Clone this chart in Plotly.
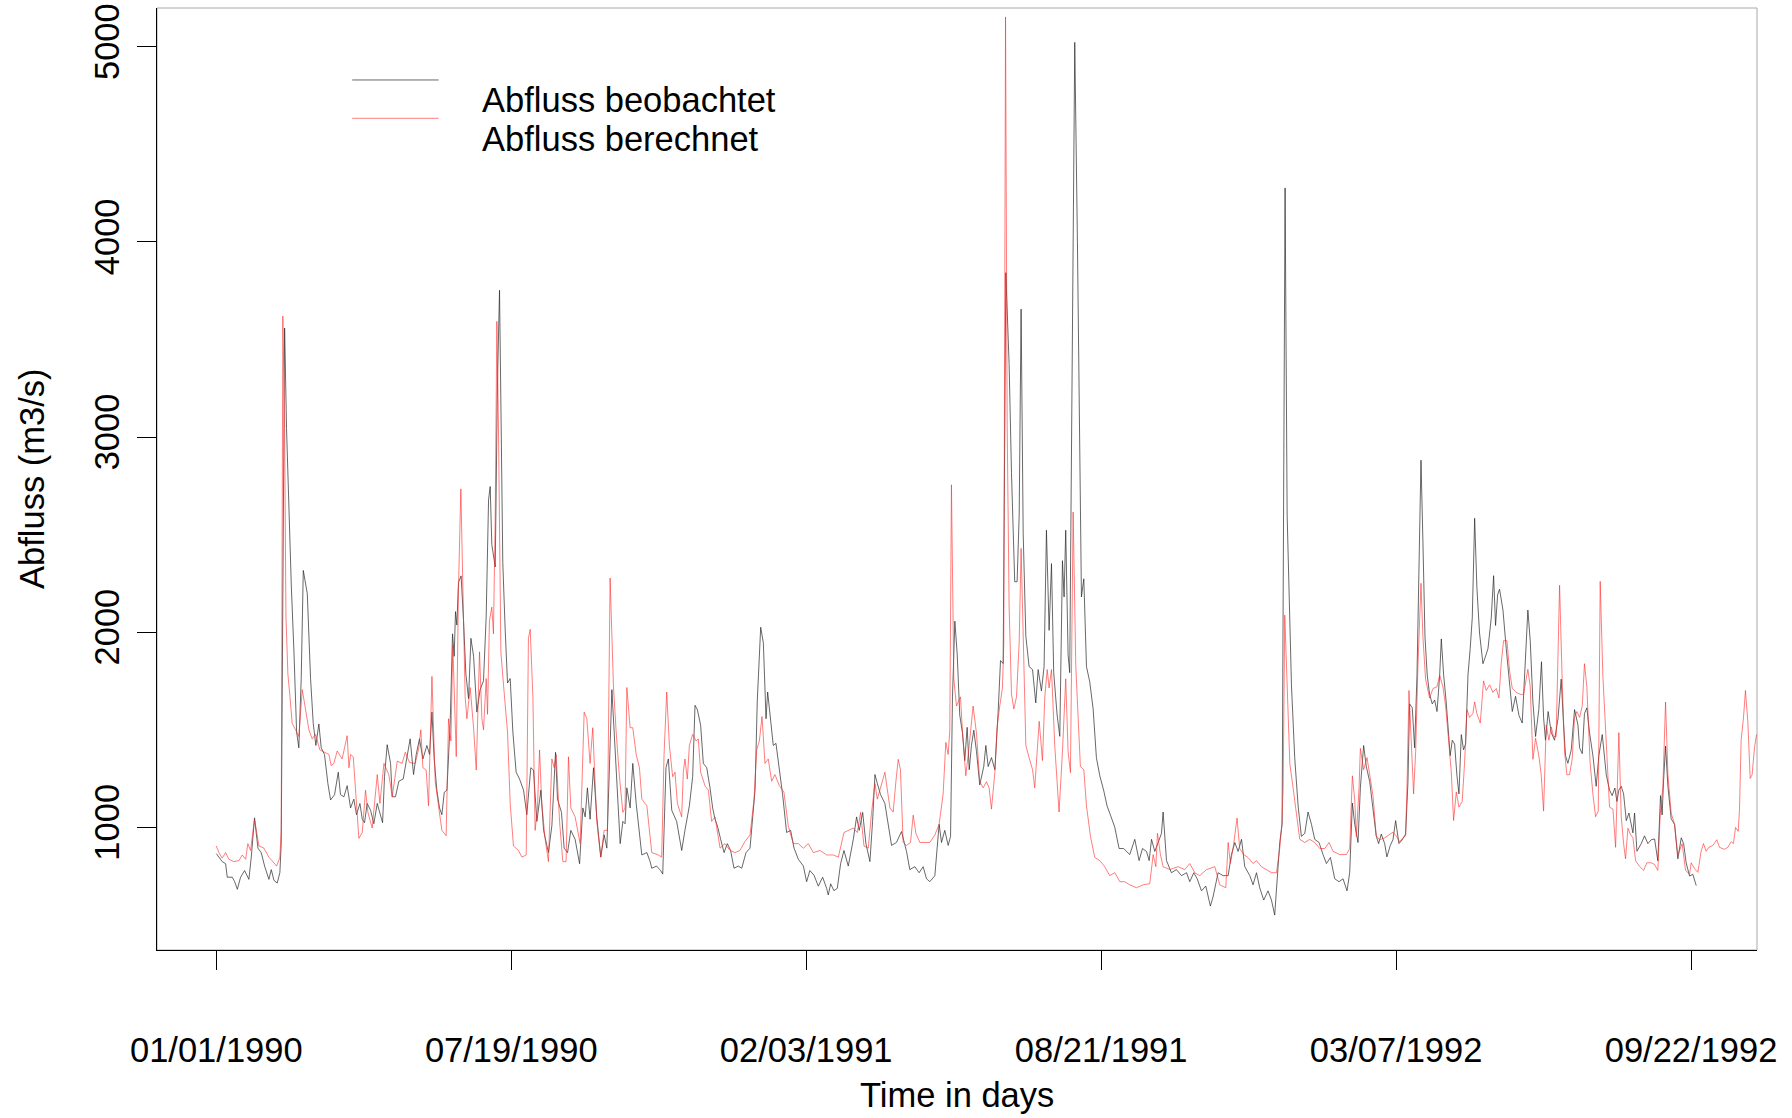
import pandas as pd
import plotly.graph_objects as go

# Daily discharge, observed vs. simulated (day offset from 1990-01-01, m3/s)
obs_day = [0, 1.8, 4, 6.3, 7.4, 10.8, 12.4, 14.2, 16.4, 19.1, 22, 23.6, 25.8, 28.1, 30.3, 32.6, 35.5, 37.1, 38.9, 41.1,
           42.9, 43.8, 44.7, 46.1, 47.4, 49, 50.6, 52.4, 54.2, 55.7, 57.3, 58.7, 61.4, 63.6, 65.4, 67.2, 69.2, 70.8, 73, 75.3,
           77.1, 79.8, 82.3, 83.8, 86.1, 88.3, 90.6, 92.8, 94.6, 96.9, 98.5, 100, 101.8, 104.1, 106.3, 108.6, 110.4, 112.2,
           113.5, 115.3, 117.6, 118.7, 120.9, 123.2, 126.1,
           129, 130.8, 133.1, 134.9, 137.1, 139.4, 142.1, 143.9, 145.5, 147, 148.8, 150.6, 152.2, 153.8, 155.6, 157.8, 159.4,
           160.5, 161.4, 162.3, 163.4, 165.2, 166.8, 168.4, 170.2, 171.8, 173.6, 175.8, 178, 180.3, 182.1, 183.7, 184.8, 185.9,
           188.2, 189.7, 191.1, 192, 193.3, 194.9, 196.5, 198.3, 200.1, 202.3, 204.6, 207.3, 209.5, 212.2, 214, 216.3, 219,
           220.8, 224.1, 226.4, 228.9, 230.2, 232.9, 234.7, 237, 239.2, 242.1, 245.1, 247.3, 248.9, 250.4, 252.2, 254.5, 256.7,
           259.4, 261.7, 263.5, 266.9, 269.1, 272.5, 274.3, 275.8, 277, 279.2, 281, 283.3, 287.1, 290.5, 292.7,
           293.8, 297.1, 299.8, 301.2, 302.1, 303.4, 305, 307.3, 310.6, 314, 316.2, 319.2, 321.4, 323, 324.6, 326.8, 328.6,
           330.9, 333.1, 334.9, 336.5, 338.1, 340.3, 342.6, 344.8, 347, 349.3, 352.2, 354.5, 357.4, 360.1, 363.5, 365, 367.3,
           369.1, 370.9, 372, 373.6, 375.8, 377.6, 379.9, 382.1, 384.8, 387.5, 389.8, 392.7, 396.1, 398.3, 400.5, 403.2, 406.2,
           409.1, 411.8, 412.9, 414.5, 416.7, 419, 421.2, 423.5, 426.4, 429.8, 432, 433.8, 436.1, 438.3, 441, 442.8, 444.4,
           446, 448.2, 451.1, 454.5,
           455.6, 458.9, 462.3, 465.7, 467.9, 471.3, 474.2, 476.9, 479.2, 481.4, 484.8, 487.7, 489.3, 491.5, 493.8, 495.4,
           496.7, 498.3, 499.9, 501.6, 503.5, 505, 506.6, 508, 509.5, 511.1, 512.9, 515.1, 517.8, 519.2, 520.8, 523, 525.3,
           527.5, 529.1, 530.9, 532.7, 534.9, 536.5, 538.7, 540.3, 541.7, 543, 544.4, 546.2, 548.4, 550.7, 552.9, 554.5, 556.7,
           558.5, 560.1, 561.9, 563.5, 565, 567.3, 569.1, 570.9, 572, 573.1, 574.7, 575.8, 577, 579.2, 581, 582.6, 583.7, 585.3,
           587.1, 589.3, 591.6, 593.8, 596.1, 598.8, 601, 603.3, 606.2, 609.1, 612.2,
           616.3, 619.7, 622.6, 624.9, 627.6, 629.4, 631, 633.2, 635.5, 637.7, 638.8, 641.1, 644.4, 647.8, 651.2, 654.6, 656.8,
           659.5, 661.8, 664.7, 667.6, 670.7, 672.5, 675.9, 679.3, 682.7, 684.9, 687.2, 689.4, 691.7, 693.9, 697.3, 699.5,
           701.8, 704, 706.7, 709.6, 711.9, 714.1, 715.7, 717.5, 719.1, 720.2, 721.1, 722.5, 723.8, 725.4, 727.6, 729.9, 732.1,
           734.4, 736.6, 738.9, 741.1, 744, 746.7, 749, 751.7, 754.6, 757.5, 760.2, 762.9, 764.7, 766.5, 768.1, 770.3, 771.9,
           774.1, 775.9, 778.2,
           780.4, 782.6, 784.2, 786, 788.3, 789.8, 792.1, 793.9, 795.7, 797.9, 800.2, 802.4, 804, 805.1, 806.9, 808.5, 810.1,
           811.4, 812.8, 814.1, 815.5, 817, 818.6, 820.4, 822, 823.6, 825.4, 826.5, 828.1, 829.8, 831.6, 832.5, 833.9, 835.5,
           837, 838.4, 840, 841.5, 842.9, 844.5, 846, 847.4, 849, 850.5, 852.3, 854.6, 856.4, 858, 860.2, 861.8, 863.1, 864.5,
           865.8, 868.1, 870.3, 872.1, 874.4, 876.6, 878.9, 881.1, 882.7, 884.9, 886.5, 888.3, 890.1, 892.3, 894.1, 895.5,
           896.8, 898.6, 900.7, 902.9, 905.2, 907.4, 909, 910.3, 911.9, 914.2, 916.4, 918.7, 919.8, 921.6, 923.1, 924.7, 926.5,
           928.8, 931, 932.8, 935.1, 937.8, 940,
           941.8, 943.6, 945, 946.3, 947.9, 949.5, 951.3, 953.1, 954.6, 955.8, 956.9, 958.5, 961.4, 963.6, 965.9, 968.1, 970.4,
           972.6, 974.4, 975.5, 976.4, 977.8, 979.4, 981.6, 983.9, 986.1, 988.4, 990, 991.7, 994, 996.2, 998.5]
obs_val = [866, 848, 825, 814, 745, 745, 722, 683, 745, 779, 734, 848, 1049, 894, 871, 802, 734, 784, 729, 715,
           768, 917, 1900, 3559, 3044, 2587, 2243, 1900, 1489, 1408, 1763, 2317, 2198, 1763, 1534, 1420, 1530, 1408, 1374, 1225,
           1141, 1168, 1283, 1168, 1157, 1214, 1100, 1145, 1065, 1123, 1042, 1024, 1123, 1088, 1019, 1123, 1077, 1024,
           1260, 1424, 1328, 1157, 1157, 1237, 1248,
           1374, 1454, 1271, 1374, 1454, 1351, 1420, 1374, 1591, 1351, 1191, 1100, 1065, 1180, 1191, 1534, 1992,
           1877, 2106, 2037, 2255, 2289, 2060, 1786, 1660, 1969, 1877, 1591, 1706, 1752, 2083, 2678, 2747, 2449,
           2335, 3273, 3753, 3044, 2358, 2015, 1740, 1763, 1489, 1283, 1248, 1191, 1065, 1306, 1294, 1031, 1191,
           985, 871, 1008, 1385, 1145, 1077, 894, 871, 985, 939, 814, 1100, 1054, 1203, 1042, 1306, 1054,
           848, 962, 894, 1706, 1420, 917, 1031, 1019, 1203, 1100, 1328, 1123, 859, 871, 825,
           791, 802, 779, 761, 1008, 1306, 1351, 1088, 1031, 882, 985, 1111, 1260, 1626, 1603, 1523, 1328,
           1306, 1203, 1100, 1042, 1008, 939, 871, 917, 882, 791, 802, 791, 871, 894, 1191, 1649, 2026,
           1946, 1557, 1694, 1580, 1420, 1431, 1306, 1168, 974, 985, 894, 837, 802, 722, 779, 756, 699,
           745, 688, 654, 711, 676, 688, 814, 882, 802, 939, 1054, 985, 1077, 917, 825, 1031, 1271,
           1225, 1168, 1123, 962,
           908, 923, 979, 877, 784, 799, 768, 799, 737, 722, 753, 1016, 923, 985, 908, 954,
           1669, 2057, 1886, 1576, 1482, 1343, 1513, 1296, 1420, 1498, 1389, 1218, 1312, 1420, 1312, 1358, 1296,
           1591, 1855, 1840, 3843, 3377, 2818, 2259, 2259, 2600, 3656, 2507, 1979, 1824, 1809, 1638, 1809, 1700,
           1824, 2523, 2010, 2352, 1793, 1576, 1467, 2367, 2181, 2523, 1886, 1793, 3066, 5023, 3998, 2694, 2181, 2274,
           1824, 1747, 1607, 1358, 1265, 1187, 1110, 1063, 1001, 892, 892,
           861, 939, 830, 892, 877, 830, 939, 877, 923, 970, 1079, 830, 768, 784, 753, 768, 722,
           768, 737, 675, 700, 597, 644, 768, 753, 753, 861, 923, 877, 939, 799, 753, 706,
           768, 691, 628, 675, 628, 551, 706, 923, 1016, 3066, 4277, 2600, 2135, 1731, 1358, 1110, 954,
           970, 1079, 1016, 939, 923, 861, 815, 846, 737, 722, 737, 675, 768, 1125, 1016, 923, 1203,
           1420, 1312, 1234,
           1094, 957, 917, 966, 917, 849, 908, 937, 1035, 917, 937, 966, 1231, 1633, 1613, 1408, 1780,
           2270, 2882, 2466, 1976, 1780, 1682, 1633, 1653, 1594, 1780, 1966, 1780, 1643, 1486, 1368, 1447, 1427,
           1270, 1172, 1476, 1398, 1427, 1780, 1917, 2074, 2584, 2231, 1996, 1839, 1878, 1917, 2074, 2290, 2035, 2192,
           2221, 2114, 1917, 1760, 1594, 1672, 1574, 1535, 1780, 2114, 1957, 1643, 1466, 1604, 1849, 1564,
           1447, 1594, 1486, 1447, 1555, 1760, 1525, 1368, 1329, 1398, 1604, 1525, 1408, 1378, 1584, 1613, 1486,
           1368, 1211, 1368, 1476, 1270, 1192,
           1163, 1202, 1133, 1192, 1211, 1172, 1035, 1074, 1006, 972, 1074, 878, 917, 957, 917, 937, 941,
           829, 1163, 1064, 1231, 1417, 1211, 1045, 1015, 839, 947, 917, 819, 751, 760, 702]

sim_day = [0, 1.8, 4, 6.3, 8.5, 11.9, 15.3, 17.5, 19.8, 21.3, 23.1, 25.8, 28.8, 32.1, 35.5, 38.9, 40.7, 42.9, 43.8, 44.9,
           46.1, 47, 48.3, 49.7, 51.2, 53.5, 55.7, 58, 60.2, 62.5, 64.7, 67, 69.9, 72.6, 76, 77.5, 79.3, 81.6, 84.9, 88.3,
           89.5, 90.6, 92.4, 94.4, 96.2, 98.5, 100.7, 102.3, 105.2, 108.6, 110.4, 113.1, 116.4, 118.7, 122.1, 125.4,
           127.5, 130.4, 134.2, 136.5, 138, 139.4, 141.6, 143.2, 145.5, 147.7, 150, 152.2, 155.1, 156.7, 158.3, 159.6, 161.9,
           163.4, 165, 166.4, 167.9, 169.1, 171.3, 173.6, 175.4, 177.6, 179.2, 180.3, 182.1, 183, 184.3, 185.9, 187, 188.2,
           189.3, 190.4, 192, 194.2, 196.5, 198.3, 200.5, 203.9, 206.2, 209.1, 210.6, 211.8, 213.6, 215.1, 216.7, 218.1,
           219.6, 221.9, 224.1, 226.4, 228, 229.3, 231.6, 233.8, 236, 237.6, 239.2, 242.1, 245.5, 248.2, 250, 252.2, 254,
           256.7, 259.4, 261.7, 263.9, 265.7, 268, 269.8, 272, 274.3, 275.8, 277, 279.2, 281, 283.3, 285.5, 287.1, 290.5, 292.7,
           293.8, 298.3, 300.5, 302.1, 303.9, 305.7, 307.9, 309.5, 311.1, 314, 315.1, 316.2, 317.8, 319.2, 321.4, 323.7, 325.2,
           326.8, 329.7, 332, 334.2, 336.5, 339.9, 343.2, 346.6, 350, 353.3, 356.7, 360.1, 362.8, 364.6, 366.4, 368.2, 370.2,
           372.4, 374.7, 376.9, 379.9, 383, 385.9, 389.3, 392.7, 396.1, 399.4, 402.8, 407.3, 411.8, 416.3, 419.7, 423.5, 426.4,
           429.8, 432.5, 434.7, 437, 439.9, 442.1, 444.4, 446, 447.8, 451.1, 454.5,
           456.7, 458.5, 460.1, 461.6, 463.4, 465.7, 468.4, 470.2, 472, 474.7, 478, 481.4, 484.8, 487.7, 490.4, 492.2, 493.8,
           494.9, 496, 497.6, 499.4, 502.1, 503.5, 505.7, 508, 510.6, 512.9, 515.1, 517.4, 519.6, 521.4, 523, 525.3, 526.8,
           528.6, 530.4, 531.3, 532.5, 533.6, 534.9, 536.5, 538.1, 539.9, 541.7, 543, 544.4, 546.2, 548.4, 550.7, 552.2, 553.8,
           555.2, 557.4, 559, 560.6, 561.9, 563.5, 565.7, 568.6, 570.9, 573.1, 574.7, 576.3, 578.1, 579.9, 581.5, 583, 585.3,
           587.1, 589.8, 592.7, 596.1, 599.4, 602.8, 606.2, 609.6, 612.9,
           616.3, 620.8, 625.3, 629.8, 632.1, 633.9, 635, 637, 638.8, 643.3, 648.9, 653.4, 656.8, 660.2, 663.5, 668.1, 673.7,
           677, 681.1, 682.7, 684.2, 686, 688.7, 690.5, 693.2, 696.1, 699.5, 701.8, 705.1, 708.5, 711.9, 715.3, 717.5, 718.9,
           719.8, 720.9, 722, 724.3, 726.5, 728.7, 731, 734.4, 737.7, 741.1, 744.5, 747.9, 750.8, 753.5, 758, 762.5, 764.7,
           766.5, 768.1, 769.2, 771, 771.9, 774.1, 776.4, 778.2,
           780.4, 782.6, 784.9, 788.3, 791.6, 793.9, 796.1, 798.4, 800.6, 802.4, 803.3, 804.7, 806.2, 807.8, 809.2, 810.7,
           812.8, 814.1, 815.9, 818.6, 820.9, 823.6, 825.4, 827.6, 829.4, 831, 833.2, 834.8, 836.6, 838.4, 840.6, 842.2, 843.8,
           845.6, 847.8, 849, 850.5, 852.8, 855, 856.8, 859.1, 861.3, 863.6, 865.4, 866.9, 868.5, 870.8, 872.6, 874.4, 877.1,
           879.8, 882, 883.8, 884.9, 886.5, 888.3, 890.1, 892.3, 893.9, 895.5, 897.3, 899.1, 900.7, 902.2, 904, 906.3, 908.1,
           909.7, 911.2, 913, 914.8, 916.4, 918, 919.8, 921.6, 923.1, 924.7, 926.9, 928.8, 930.6, 932.4, 933.7, 935.5, 937.8, 940,
           942.3, 944.1, 946.3, 947.9, 949.5, 950.8, 952.4, 954, 955.8, 957.6, 960.3, 963, 965.2, 968.1, 970.4, 972.6, 974.2,
           976, 977.8, 979.4, 981.6, 983.9, 986.1, 989, 991.3, 994, 995.1, 997.3, 999.6, 1001.8, 1003.4, 1005.2, 1007, 1009.7,
           1012.4, 1014.2, 1017.6, 1019.8, 1022.1, 1023.6, 1025, 1026.8, 1027.7, 1028.8, 1030.4, 1031.7, 1033.3, 1034.9,
           1036.2, 1037.8, 1039.2]
sim_val = [905, 871, 843, 871, 837, 825, 830, 859, 837, 917, 882, 1042, 905, 894, 848, 814, 802, 848, 985, 3620,
           3044, 2083, 1786, 1671, 1534, 1500, 1466, 1706, 1603, 1500, 1454, 1477, 1397, 1385, 1374, 1317, 1328, 1392, 1351, 1470,
           1306, 1374, 1362, 1145, 944, 974, 1191, 1077, 997, 1271, 1123, 1328, 1271, 1157, 1340, 1328,
           1385, 1333, 1328, 1401, 1500, 1306, 1294, 1111, 1774, 1237, 1111, 985, 958, 1557, 1443, 1935, 1363,
           2221, 2735, 2175, 1671, 1557, 1717, 1511, 1294, 1900, 1557, 1500, 1763, 1580, 2060, 2129, 1992, 2587,
           3593, 3044, 1900, 1694, 1489, 1123, 905, 882, 848, 859, 1969, 2015, 1671, 985, 1100, 1397,
           1123, 939, 825, 1351, 1306, 1374, 1031, 825, 825, 1362, 1100, 1054, 917, 1591, 1557, 1328, 1511,
           1031, 848, 985, 985, 2278, 1717, 1489, 1260, 1077, 1100, 1717, 1511, 1511, 1374, 1306, 1145, 1111, 939,
           871, 859, 848, 1374, 1694, 1420, 1260, 1283, 1123, 1054, 1283, 1351, 1248, 1420, 1477, 1443, 1454,
           1283, 1214, 1191, 1031, 1054, 894, 917, 882, 871, 882, 928, 962, 1145, 1397, 1443, 1568, 1328,
           1351, 1237, 1271, 1214, 1180, 1008, 917, 917, 894, 917, 871, 882, 859, 859, 848, 974, 985,
           997, 974, 1077, 905, 894, 1077, 1225, 1145, 1191, 1283, 1100,
           1079, 1234, 1349, 1296, 923, 908, 923, 1063, 970, 923, 923, 923, 961, 1016, 1172, 1436, 1374,
           1498, 2756, 1762, 1622, 1669, 1482, 1265, 1420, 1622, 1482, 1234, 1203, 1234, 1203, 1094, 1281, 1513,
           1622, 1715, 1933, 5153, 3066, 2135, 1684, 1607, 1669, 1948, 2430, 1917, 1420, 1358, 1296, 1203, 1389,
           1544, 1343, 1669, 1809, 1715, 1809, 1420, 1079, 1389, 1762, 1389, 1281, 2616, 1824, 1513, 1312, 1296,
           1110, 954, 846, 830, 799, 753, 768, 722, 722,
           706, 691, 706, 712, 861, 799, 970, 861, 799, 784, 799, 784, 815, 768, 753, 784, 799,
           706, 691, 923, 815, 892, 1048, 892, 861, 846, 815, 830, 799, 784, 768, 768, 892, 1016,
           1203, 2088, 1824, 1327, 1203, 1079, 939, 923, 939, 923, 892, 892, 923, 877, 861, 861, 892,
           1265, 1141, 954, 1203, 1405, 1296, 1358, 1265,
           1163, 957, 937, 947, 966, 976, 957, 927, 947, 957, 1192, 1702, 1447, 1172, 1388, 1819,
           2251, 1976, 1760, 1663, 1712, 1721, 1780, 1721, 1623, 1466, 1290, 1035, 1182, 1104, 1133, 1329, 1604,
           1564, 1584, 1643, 1584, 1535, 1751, 1702, 1731, 1692, 1712, 1663, 1839, 1957, 1957, 1800, 1712, 1692,
           1682, 1682, 1760, 1810, 1721, 1349, 1457, 1368, 1270, 1084, 1525, 1447, 1515, 1466, 1466, 2241, 1741,
           1388, 1270, 1270, 1349, 1564, 1594, 1564, 1623, 1839, 1721, 1329, 1172, 1055, 1084, 2261, 1780, 1447, 1104,
           1094, 898, 1486, 1055, 917, 839, 996, 966, 947, 829, 800, 780, 819, 819, 810, 780, 1064,
           1211, 1643, 1270, 1074, 1015, 858, 917, 780, 760, 819, 790, 770, 878, 917, 878, 898, 908,
           937, 898, 888, 898, 927, 917, 1000, 980, 1094, 1447, 1564, 1702, 1545, 1251,
           1270, 1408, 1476]

start_date = pd.Timestamp("1990-01-01")
tick_days = [0, 199, 398, 597, 796, 995]
tick_text = [(start_date + pd.Timedelta(days=d)).strftime("%m/%d/%Y") for d in tick_days]
y_ticks = [1000, 2000, 3000, 4000, 5000]

series_names = ["Abfluss beobachtet", "Abfluss berechnet"]
series_colors = ["rgba(40,40,40,0.7)", "rgba(255,40,40,0.6)"]

FONT = "Liberation Sans, Arial, Helvetica, sans-serif"
FS = 34.5

fig = go.Figure()
fig.add_trace(go.Scatter(x=obs_day, y=obs_val, mode="lines", name=series_names[0],
                         line=dict(color=series_colors[0], width=1)))
fig.add_trace(go.Scatter(x=sim_day, y=sim_val, mode="lines", name=series_names[1],
                         line=dict(color=series_colors[1], width=1)))

fig.update_layout(
    width=1792, height=1118,
    margin=dict(l=157, r=35, t=8, b=168, autoexpand=False),
    paper_bgcolor="white", plot_bgcolor="white",
    showlegend=False,
    font=dict(family=FONT, size=FS, color="black"),
    xaxis=dict(range=[-40, 1039.5], tickmode="array", tickvals=tick_days, ticktext=tick_text,
               showgrid=False, zeroline=False, showline=True, linecolor="black", linewidth=1.3,
               ticks="outside", ticklen=19, tickwidth=1.3, tickcolor="black", automargin=False,
               ticklabelstandoff=50, tickfont=dict(size=FS)),
    yaxis=dict(range=[372, 5199], tickmode="array", tickvals=y_ticks,
               showgrid=False, zeroline=False, showline=True, linecolor="black", linewidth=1.3,
               ticks="outside", ticklen=19, tickwidth=1.3, tickcolor="black", automargin=False,
               tickangle=-90, ticklabelstandoff=4, tickfont=dict(size=FS)),
)

# light frame around the plotting region
fig.add_shape(type="rect", xref="paper", yref="paper", x0=0, x1=1, y0=0, y1=1,
              line=dict(color="#a8a8a8", width=1), layer="below")

# axis titles
fig.add_annotation(text="Time in days", xref="paper", yref="paper", x=0.5, y=0,
                   xanchor="center", yanchor="middle", yshift=-145, showarrow=False,
                   font=dict(size=FS))
fig.add_annotation(text="Abfluss (m3/s)", xref="paper", yref="paper", x=0, y=0.5,
                   xanchor="center", yanchor="middle", xshift=-125, textangle=-90,
                   showarrow=False, font=dict(size=FS))

# legend: line samples with labels to their right
legend_rows = [(0.9236, 0.9019), (0.8829, 0.8605)]
for name, color, (ly, ty) in zip(series_names, series_colors, legend_rows):
    fig.add_shape(type="line", xref="paper", yref="paper", x0=0.122, x1=0.176, y0=ly, y1=ly,
                  line=dict(color=color, width=1))
    fig.add_annotation(text=name, xref="paper", yref="paper", x=0.2019, y=ty,
                       xanchor="left", yanchor="middle", showarrow=False, font=dict(size=FS))

fig.write_html("out.html")
